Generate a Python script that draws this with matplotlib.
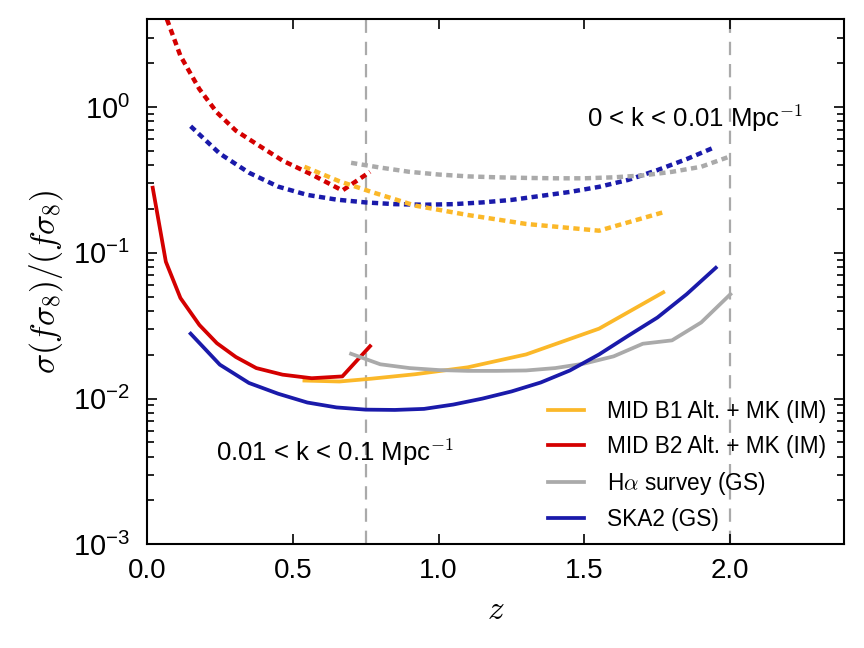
import matplotlib
matplotlib.use('Agg')
import matplotlib.pyplot as plt
from matplotlib.ticker import LogLocator, NullFormatter, FixedLocator

plt.rcParams['font.family'] = ['Liberation Sans', 'DejaVu Sans']
plt.rcParams['mathtext.fontset'] = 'cm'

# MID B2 Alt. + MK (IM)
z_b2 = [0.02, 0.065, 0.115, 0.18, 0.24, 0.305, 0.375, 0.465, 0.565, 0.67, 0.765]
b2_lo = [0.28, 0.087, 0.049, 0.032, 0.024, 0.0193, 0.0162, 0.0146, 0.0138, 0.0142, 0.0229]
b2_hi = [8.0, 4.2, 2.25, 1.33, 0.92, 0.69, 0.56, 0.43, 0.345, 0.268, 0.36]

# MID B1 Alt. + MK (IM)
z_b1 = [0.54, 0.66, 0.77, 0.92, 1.1, 1.3, 1.55, 1.77]
b1_lo = [0.0133, 0.0131, 0.0137, 0.0147, 0.0164, 0.0201, 0.0302, 0.0536]
b1_hi = [0.39, 0.31, 0.262, 0.211, 0.182, 0.158, 0.142, 0.19]

# H-alpha survey (GS)
z_ha = [0.7, 0.8, 0.9, 1.0, 1.1, 1.2, 1.3, 1.4, 1.5, 1.6, 1.7, 1.8, 1.9, 2.0]
ha_lo = [0.0203, 0.0172, 0.0162, 0.0157, 0.0155, 0.0155, 0.0156, 0.0162,
         0.0174, 0.0195, 0.0238, 0.0251, 0.0333, 0.052]
ha_hi = [0.415, 0.385, 0.36, 0.345, 0.335, 0.33, 0.327, 0.325, 0.325, 0.33,
         0.34, 0.36, 0.39, 0.46]

# SKA2 (GS)
z_ska = [0.15, 0.25, 0.35, 0.45, 0.55, 0.65, 0.75, 0.85, 0.95, 1.05, 1.15,
         1.25, 1.35, 1.45, 1.55, 1.65, 1.75, 1.85, 1.95]
ska_lo = [0.0279, 0.0171, 0.0128, 0.0108, 0.0094, 0.0087, 0.0084, 0.00836, 0.0085,
          0.0091, 0.0100, 0.0112, 0.0129, 0.0156, 0.0201, 0.027, 0.036, 0.052, 0.079]
ska_hi = [0.74, 0.48, 0.355, 0.285, 0.25, 0.232, 0.222, 0.216, 0.214, 0.216,
          0.222, 0.231, 0.246, 0.262, 0.284, 0.317, 0.37, 0.44, 0.535]

z_cuts = [0.75, 2.0]
xticks = [0.0, 0.5, 1.0, 1.5, 2.0]

c_b1 = '#fbb829'
c_b2 = '#d40000'
c_ha = '#aaaaaa'
c_ska = '#1a1aaa'

fig = plt.figure(figsize=(8.64, 6.48), dpi=100)
ax = fig.add_axes([0.170, 0.160, 0.807, 0.810])

dot = (0, (1.4, 1.0))
for zc in z_cuts:
    ax.axvline(zc, color=c_ha, lw=1.6, ls=(0, (6, 4)), zorder=1)

ax.plot(z_b2, b2_hi, color=c_b2, lw=3.2, ls=dot)
ax.plot(z_ska, ska_hi, color=c_ska, lw=3.2, ls=dot)
ax.plot(z_b1, b1_hi, color=c_b1, lw=3.2, ls=dot)
ax.plot(z_ha, ha_hi, color=c_ha, lw=3.2, ls=dot)

ax.plot(z_b1, b1_lo, color=c_b1, lw=2.7, label='MID B1 Alt. + MK (IM)')
ax.plot(z_b2, b2_lo, color=c_b2, lw=2.7, label='MID B2 Alt. + MK (IM)')
ax.plot(z_ha, ha_lo, color=c_ha, lw=2.7, label=r'H$\alpha$ survey (GS)')
ax.plot(z_ska, ska_lo, color=c_ska, lw=2.7, label='SKA2 (GS)')

ax.set_yscale('log')
ax.set_xlim(0, 2.39)
ax.set_ylim(1e-3, 4.0)

ax.xaxis.set_major_locator(FixedLocator(xticks))
ax.set_xticklabels(['%.1f' % t for t in xticks])
ax.yaxis.set_minor_locator(LogLocator(base=10, subs=range(2, 10), numticks=10))
ax.yaxis.set_minor_formatter(NullFormatter())
ax.set_yticks([1e-3, 1e-2, 1e-1, 1e0])
ax.set_yticklabels([r'$\mathregular{10^{-3}}$', r'$\mathregular{10^{-2}}$',
                    r'$\mathregular{10^{-1}}$', r'$\mathregular{10^{0}}$'])

ax.tick_params(which='both', direction='in', top=True, right=True, width=1.2)
ax.tick_params(which='major', length=7, labelsize=20)
ax.tick_params(axis='y', which='major', labelsize=21)
ax.tick_params(axis='x', which='major', pad=10)
ax.tick_params(axis='y', which='major', pad=12)
ax.tick_params(which='minor', length=5)
for s in ax.spines.values():
    s.set_linewidth(1.5)

ax.set_xlabel(r'$z$', fontsize=24, labelpad=8)
ax.set_ylabel(r'$\sigma(f\sigma_8)/(f\sigma_8)$', fontsize=24, labelpad=6)

ax.text(0.631, 0.812, r'0 < k < 0.01 Mpc$^{-1}$', transform=ax.transAxes,
        fontsize=18.5, va='center', ha='left')
ax.text(0.099, 0.176, r'0.01 < k < 0.1 Mpc$^{-1}$', transform=ax.transAxes,
        fontsize=18.5, va='center', ha='left')

ax.legend(loc='upper left', bbox_to_anchor=(0.5755, 0.275), frameon=False,
          fontsize=16.3, handlelength=1.6, handletextpad=1.0, borderpad=0,
          borderaxespad=0, labelspacing=0.52)

fig.savefig('out.png', dpi=100)
